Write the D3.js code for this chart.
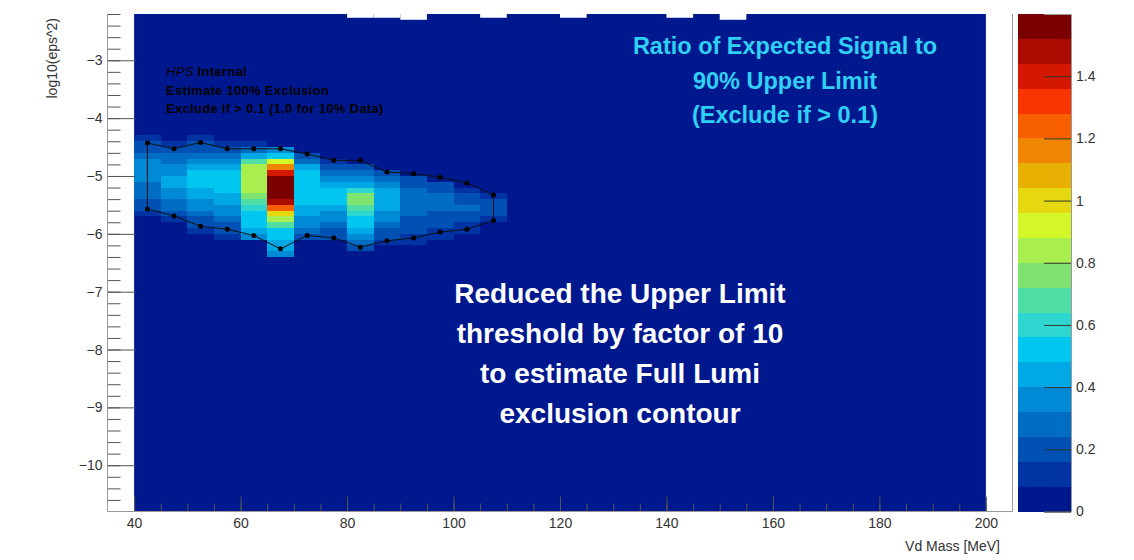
<!DOCTYPE html>
<html>
<head>
<meta charset="utf-8">
<script src="https://cdn.jsdelivr.net/npm/d3@7"></script>
<style>
  body { margin: 0; background: #fff; }
  svg { display: block; font-family: "Liberation Sans", Arial, sans-serif; }
</style>
</head>
<body>
<svg id="chart" width="1134" height="560"></svg>
<script>
// mass bins (lower edges, MeV)
var massBins = [40, 45, 50, 55, 60, 65, 70, 75, 80, 85, 90, 95, 100, 105];
var massStep = 5;
// log10(eps^2) rows (upper edges)
var epsRows = [-4.3, -4.4, -4.5, -4.6, -4.7, -4.8, -4.9, -5.0, -5.1, -5.2, -5.3,
               -5.4, -5.5, -5.6, -5.7, -5.8, -5.9, -6.0, -6.1, -6.2, -6.3];
var epsStep = 0.1;

// ratio of expected signal to 90% UL, one list per mass bin (0 = below first contour)
var ratio = [
  [.12,.20,.20,.28,.36,.36,.36,.36,.28,.28,.28,.20,.20,.12,0,0,0,0,0,0,0],
  [0,.12,.20,.28,.28,.36,.36,.44,.44,.36,.36,.28,.28,.20,.12,0,0,0,0,0,0],
  [.12,.20,.20,.28,.36,.44,.52,.52,.52,.44,.44,.36,.36,.28,.20,.20,.12,0,0,0,0],
  [0,.12,.20,.28,.36,.44,.52,.52,.52,.52,.44,.44,.36,.36,.28,.20,.20,.12,0,0,0],
  [0,.12,.28,.44,.68,.84,.84,.84,.84,.84,.76,.68,.60,.52,.52,.52,.44,.36,0,0,0],
  [0,0,.36,.52,.92,1.16,1.40,1.56,1.56,1.56,1.56,1.48,1.24,1.00,.84,.68,.52,.52,.44,.44,.36],
  [0,0,0,.20,.28,.44,.52,.52,.52,.52,.52,.52,.44,.44,.36,.36,.28,.20,0,0,0],
  [0,0,0,0,.12,.20,.28,.36,.44,.52,.52,.52,.44,.36,.36,.28,.20,.20,0,0,0],
  [0,0,0,0,0,.20,.28,.36,.44,.60,.76,.76,.68,.60,.52,.52,.44,.36,.28,.20,0],
  [0,0,0,0,0,0,.20,.28,.36,.44,.44,.44,.44,.36,.36,.28,.20,.20,.12,0,0],
  [0,0,0,0,0,0,0,.20,.20,.28,.28,.28,.28,.28,.20,.20,.20,.12,.12,0,0],
  [0,0,0,0,0,0,0,0,.20,.20,.28,.28,.28,.20,.20,.20,.12,.12,0,0,0],
  [0,0,0,0,0,0,0,0,0,.12,.20,.20,.28,.20,.20,.12,.12,0,0,0,0],
  [0,0,0,0,0,0,0,0,0,0,.12,.20,.20,.20,.12,0,0,0,0,0,0]
];
var backgroundRatio = 0.03;
var filledMass = [40, 200];

// empty bins along the top edge
var emptyTopMass = [80, 85, 90, 105, 120, 140, 150];
var emptyTopDepth = [0.065, 0.065, 0.1, 0.065, 0.065, 0.065, 0.1];

// exclusion contour
var contourMass = [42.5, 47.5, 52.5, 57.5, 62.5, 67.5, 72.5, 77.5, 82.5, 87.5, 92.5, 97.5, 102.5, 107.5];
var contourUpper = [-4.43, -4.53, -4.42, -4.53, -4.53, -4.53, -4.62, -4.73, -4.73, -4.93, -4.96, -5.02, -5.12, -5.33];
var contourLower = [-5.57, -5.69, -5.87, -5.92, -6.03, -6.26, -6.03, -6.07, -6.23, -6.12, -6.07, -5.97, -5.92, -5.77];

var xTicks = [40, 60, 80, 100, 120, 140, 160, 180, 200];
var yTicks = [-10, -9, -8, -7, -6, -5, -4, -3];
var zTicks = [0, 0.2, 0.4, 0.6, 0.8, 1, 1.2, 1.4];

var palette = ["#00188e", "#0033a3", "#0051b3", "#006cc2", "#008ad6", "#00a8e6", "#00c6f0",
  "#2ed6d0", "#4fdda3", "#7fe46f", "#a8ee4e", "#d4f72a", "#e6d80e", "#e9b004", "#f08502",
  "#f85f00", "#f83400", "#d41800", "#ac0b00", "#7a0000"];

var svg = d3.select("#chart");

var x = d3.scaleLinear().domain([35, 205]).range([107.5, 1012.5]);
var y = d3.scaleLinear().domain([-10.8, -2.2]).range([511.5, 14]);
var z = d3.scaleLinear().domain([0, 1.6]).range([511.5, 14]);
var color = d3.scaleQuantize().domain([0, 1.6]).range(palette);

// background bins
svg.append("rect")
  .attr("x", x(filledMass[0]))
  .attr("y", y(-2.2))
  .attr("width", x(filledMass[1]) - x(filledMass[0]))
  .attr("height", y(-10.8) - y(-2.2))
  .attr("fill", color(backgroundRatio));

svg.append("g").selectAll("rect")
  .data(emptyTopMass)
  .enter().append("rect")
  .attr("x", d => x(d))
  .attr("y", y(-2.2))
  .attr("width", d => x(d + massStep) - x(d))
  .attr("height", (d, i) => y(-2.2 - emptyTopDepth[i]) - y(-2.2))
  .attr("fill", "#fff");

// heat cells
var cells = [];
massBins.forEach(function (m, i) {
  epsRows.forEach(function (e, j) {
    if (ratio[i][j] > 0) cells.push({ m: m, e: e, v: ratio[i][j] });
  });
});

svg.append("g")
  .attr("shape-rendering", "crispEdges")
  .selectAll("rect")
  .data(cells)
  .enter().append("rect")
  .attr("x", d => x(d.m))
  .attr("y", d => y(d.e))
  .attr("width", d => x(d.m + massStep) - x(d.m))
  .attr("height", d => y(d.e - epsStep) - y(d.e))
  .attr("fill", d => color(d.v));

// contour
var pts = contourMass.map((m, i) => [m, contourUpper[i]])
  .concat(contourMass.map((m, i) => [m, contourLower[i]]).reverse());

svg.append("path")
  .attr("d", d3.line().x(d => x(d[0])).y(d => y(d[1])).curve(d3.curveLinearClosed)(pts))
  .attr("fill", "none")
  .attr("stroke", "#111")
  .attr("stroke-width", 1);

svg.append("g").selectAll("circle")
  .data(pts)
  .enter().append("circle")
  .attr("cx", d => x(d[0]))
  .attr("cy", d => y(d[1]))
  .attr("r", 2.5)
  .attr("fill", "#000");

// axes
function styleAxis(g) {
  g.select(".domain").remove();
  g.selectAll(".tick line").attr("stroke", "#555");
  g.selectAll(".tick text").attr("fill", "#333").style("font-size", "14px")
    .style("font-family", "'Liberation Sans', Arial, sans-serif");
}

svg.append("g")
  .attr("transform", "translate(0,511.5)")
  .call(d3.axisBottom(x).tickValues(d3.range(40, 201, 5)).tickSize(-8).tickFormat(""))
  .call(styleAxis);

svg.append("g")
  .attr("transform", "translate(0,511.5)")
  .call(d3.axisBottom(x).tickValues(xTicks).tickSize(-15).tickPadding(6.5).tickFormat(d3.format("d")))
  .call(styleAxis);

svg.append("g")
  .attr("transform", "translate(107.5,0)")
  .call(d3.axisLeft(y).tickValues(d3.range(-106, -21, 2).map(d => d / 10)).tickSize(-13).tickFormat(""))
  .call(styleAxis);

svg.append("g")
  .attr("transform", "translate(107.5,0)")
  .call(d3.axisLeft(y).tickValues(yTicks).tickSize(-28).tickPadding(5).tickFormat(d3.format("d")))
  .call(styleAxis);

// frame
svg.append("path")
  .attr("d", "M" + x(35) + "," + y(-2.2) + "V" + y(-10.8) + "H" + x(205) + "V" + y(-2.2))
  .attr("fill", "none")
  .attr("stroke", "#999")
  .attr("stroke-width", 1);

// colour bar
svg.append("g")
  .attr("shape-rendering", "crispEdges")
  .selectAll("rect")
  .data(palette)
  .enter().append("rect")
  .attr("x", 1018)
  .attr("y", (d, i) => z((i + 1) * 0.08))
  .attr("width", 53)
  .attr("height", (d, i) => z(i * 0.08) - z((i + 1) * 0.08))
  .attr("fill", d => d);

svg.append("g")
  .attr("transform", "translate(1071,0)")
  .call(d3.axisRight(z).tickValues(zTicks).tickSize(-27).tickPadding(5).tickFormat(d3.format("~g")))
  .call(function (g) {
    g.select(".domain").attr("stroke", "#999");
    g.selectAll(".tick line").attr("stroke", "#333");
    g.selectAll(".tick text").attr("fill", "#333").style("font-size", "14px");
  });

// axis titles
svg.append("text")
  .attr("x", 1000)
  .attr("y", 551)
  .attr("text-anchor", "end")
  .style("font-size", "14px")
  .attr("fill", "#333")
  .text("Vd Mass [MeV]");

svg.append("text")
  .attr("transform", "translate(57,18) rotate(-90)")
  .attr("text-anchor", "end")
  .style("font-size", "14px")
  .attr("fill", "#333")
  .text("log10(eps^2)");

// labels
var info = svg.append("g")
  .style("font-size", "13px")
  .style("font-weight", "bold")
  .style("letter-spacing", "0.3px")
  .attr("fill", "#000");
var l1 = info.append("text").attr("x", 166).attr("y", 76);
l1.append("tspan").style("font-style", "italic").style("font-weight", "normal").text("HPS");
l1.append("tspan").text(" Internal");
info.append("text").attr("x", 166).attr("y", 94.5).text("Estimate 100% Exclusion");
info.append("text").attr("x", 166).attr("y", 113).text("Exclude if > 0.1 (1.0 for 10% Data)");

var cyanLines = ["Ratio of Expected Signal to", "90% Upper Limit", "(Exclude if > 0.1)"];
svg.append("g").selectAll("text")
  .data(cyanLines)
  .enter().append("text")
  .attr("x", 785)
  .attr("y", (d, i) => 54 + i * 34.5)
  .attr("text-anchor", "middle")
  .style("font-size", "23.5px")
  .style("font-weight", "bold")
  .attr("fill", "#2fd0f5")
  .text(d => d);

var noteLines = ["Reduced the Upper Limit", "threshold by factor of 10", "to estimate Full Lumi", "exclusion contour"];
svg.append("g").selectAll("text")
  .data(noteLines)
  .enter().append("text")
  .attr("x", 620)
  .attr("y", (d, i) => 303 + i * 40)
  .attr("text-anchor", "middle")
  .style("font-size", "28px")
  .style("font-weight", "bold")
  .attr("fill", "#fff")
  .text(d => d);
</script>
</body>
</html>
